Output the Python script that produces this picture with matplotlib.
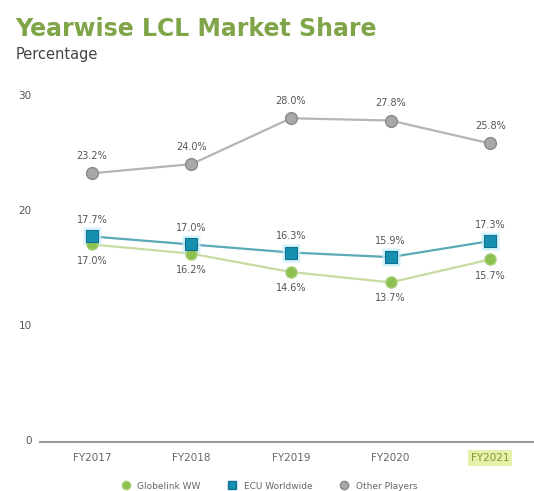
import matplotlib
matplotlib.use("Agg")
import matplotlib.pyplot as plt
from matplotlib.lines import Line2D

years = ["FY2017", "FY2018", "FY2019", "FY2020", "FY2021"]
others = [23.2, 24.0, 28.0, 27.8, 25.8]
ecu = [17.7, 17.0, 16.3, 15.9, 17.3]
globelink = [17.0, 16.2, 14.6, 13.7, 15.7]
series_names = ["Globelink WW", "ECU Worldwide", "Other Players"]
yticks = [0, 10, 20, 30]

fig = plt.figure(figsize=(5.34, 4.91), dpi=100)
ax = fig.add_axes([0.075, 0.1, 0.925, 0.727])
x = list(range(len(years)))

c_gray, c_gray_m = "#b5b5b5", "#a8a8a8"
c_blue, c_blue_m = "#5aaab8", "#1790b0"
c_green, c_green_m = "#c8dba0", "#8cc152"

ax.plot(x, others, color=c_gray, lw=1.6, zorder=2)
ax.plot(x, others, ls="none", marker="o", ms=8.5, mfc=c_gray_m, mec="#8a8a8a", mew=1, zorder=3)
ax.plot(x, ecu, color=c_blue, lw=1.6, zorder=2)
ax.plot(x, ecu, ls="none", marker="s", ms=13, mfc="#c8f0fa", mec="none", alpha=0.8, zorder=3)
ax.plot(x, ecu, ls="none", marker="s", ms=8, mfc=c_blue_m, mec="#0f7090", mew=0.8, zorder=4)
ax.plot(x, globelink, color=c_green, lw=1.6, zorder=1)
ax.plot(x, globelink, ls="none", marker="o", ms=8, mfc=c_green_m, mec="#a7cf7a", mew=1, zorder=3)

for xi, v in zip(x, others):
    ax.annotate(f"{v:.1f}%", (xi, v), xytext=(0, 9), textcoords="offset points",
                ha="center", va="bottom", fontsize=7, color="#555555")
for xi, v in zip(x, ecu):
    ax.annotate(f"{v:.1f}%", (xi, v), xytext=(0, 8), textcoords="offset points",
                ha="center", va="bottom", fontsize=7, color="#555555")
for xi, v in zip(x, globelink):
    ax.annotate(f"{v:.1f}%", (xi, v), xytext=(0, -8), textcoords="offset points",
                ha="center", va="top", fontsize=7, color="#555555")

ax.set_xlim(-0.52, 4.44)
ax.set_ylim(-0.2, 30.9)
ax.set_yticks(yticks)
ax.set_yticklabels([str(t) for t in yticks], fontsize=7.5, color="#555555")
ax.set_xticks(x)
ax.set_xticklabels(years, fontsize=7.5, color="#666666")
ax.tick_params(axis="y", length=0, pad=6)
ax.tick_params(axis="x", length=0, pad=8)
for s in ["top", "right", "left"]:
    ax.spines[s].set_visible(False)
ax.spines["bottom"].set_color("#999999")
ax.spines["bottom"].set_linewidth(1.5)

last = ax.get_xticklabels()[-1]
last.set_color("#7a9a30")
last.set_bbox(dict(boxstyle="square,pad=0.25", fc="#e6f0a8", ec="none"))

fig.text(0.028, 0.94, "Yearwise LCL Market Share", fontsize=17, fontweight="bold",
         color="#7fa548", ha="left", va="center")
fig.text(0.03, 0.888, "Percentage", fontsize=10.5, color="#444444", ha="left", va="center")

handles = [
    Line2D([], [], ls="none", marker="o", ms=6, mfc=c_green_m, mec="#a7cf7a"),
    Line2D([], [], ls="none", marker="s", ms=6, mfc=c_blue_m, mec="#0f7090"),
    Line2D([], [], ls="none", marker="o", ms=6, mfc=c_gray_m, mec="#8a8a8a"),
]
fig.legend(handles, series_names, loc="center", bbox_to_anchor=(0.5, 0.01), ncol=3,
           frameon=False, fontsize=6.5, handletextpad=0.3, columnspacing=2.5,
           labelcolor="#666666")

fig.savefig("out.png", dpi=100, facecolor="white")
